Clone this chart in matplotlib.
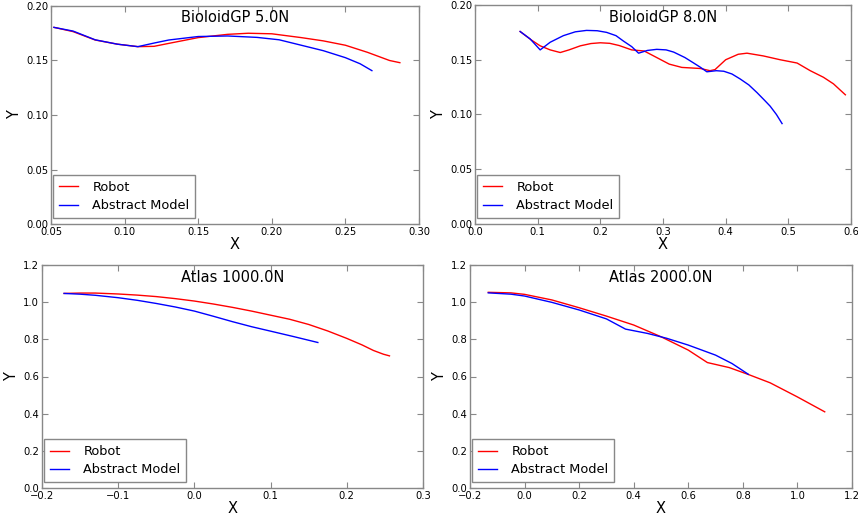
import matplotlib
matplotlib.use('Agg')
import matplotlib.pyplot as plt
from matplotlib.ticker import MultipleLocator, FuncFormatter

# BioloidGP 5.0N
bg5_robot_x = [0.052, 0.065, 0.080, 0.095, 0.109, 0.120, 0.130, 0.150, 0.170, 0.184, 0.200, 0.220, 0.235, 0.250, 0.265, 0.280, 0.287]
bg5_robot_y = [0.1804, 0.1765, 0.1688, 0.1650, 0.1627, 0.1630, 0.1657, 0.1710, 0.1740, 0.1750, 0.1745, 0.1710, 0.1680, 0.1640, 0.1575, 0.1500, 0.1480]
bg5_model_x = [0.052, 0.065, 0.080, 0.095, 0.109, 0.120, 0.130, 0.150, 0.170, 0.190, 0.205, 0.220, 0.235, 0.250, 0.260, 0.268]
bg5_model_y = [0.1804, 0.1770, 0.1690, 0.1650, 0.1627, 0.1660, 0.1688, 0.1720, 0.1725, 0.1712, 0.1690, 0.1640, 0.1590, 0.1526, 0.1470, 0.1407]

# BioloidGP 8.0N
bg8_robot_x = [0.072, 0.090, 0.104, 0.120, 0.136, 0.150, 0.168, 0.185, 0.200, 0.215, 0.230, 0.250, 0.270, 0.290, 0.310, 0.330, 0.360, 0.375, 0.383, 0.400, 0.420, 0.434, 0.460, 0.487, 0.514, 0.535, 0.556, 0.572, 0.591]
bg8_robot_y = [0.1758, 0.1680, 0.1627, 0.1590, 0.1566, 0.1590, 0.1627, 0.1648, 0.1655, 0.1650, 0.1630, 0.1590, 0.1580, 0.1520, 0.1460, 0.1430, 0.1420, 0.1400, 0.1410, 0.1500, 0.1550, 0.1560, 0.1535, 0.1500, 0.1470, 0.1400, 0.1340, 0.1280, 0.1180]
bg8_model_x = [0.072, 0.088, 0.104, 0.120, 0.141, 0.160, 0.178, 0.195, 0.210, 0.225, 0.237, 0.250, 0.261, 0.275, 0.290, 0.305, 0.317, 0.335, 0.349, 0.360, 0.370, 0.385, 0.397, 0.410, 0.423, 0.437, 0.450, 0.462, 0.471, 0.481, 0.490]
bg8_model_y = [0.1758, 0.1690, 0.1590, 0.1660, 0.1720, 0.1755, 0.1768, 0.1765, 0.1750, 0.1720, 0.1670, 0.1620, 0.1560, 0.1585, 0.1595, 0.1590, 0.1570, 0.1520, 0.1470, 0.1430, 0.1390, 0.1400, 0.1395, 0.1370, 0.1325, 0.1270, 0.1200, 0.1130, 0.1076, 0.1000, 0.0917]

# Atlas 1000.0N
at1_robot_x = [-0.171, -0.150, -0.130, -0.100, -0.075, -0.050, -0.025, 0.000, 0.025, 0.050, 0.075, 0.100, 0.125, 0.150, 0.175, 0.200, 0.220, 0.235, 0.248, 0.256]
at1_robot_y = [1.047, 1.049, 1.049, 1.044, 1.038, 1.030, 1.019, 1.006, 0.990, 0.972, 0.952, 0.930, 0.908, 0.880, 0.845, 0.805, 0.770, 0.740, 0.720, 0.711]
at1_model_x = [-0.171, -0.150, -0.130, -0.100, -0.075, -0.050, -0.025, 0.000, 0.025, 0.050, 0.075, 0.100, 0.130, 0.162]
at1_model_y = [1.047, 1.043, 1.037, 1.024, 1.010, 0.993, 0.974, 0.952, 0.924, 0.895, 0.868, 0.844, 0.815, 0.783]

# Atlas 2000.0N
at2_robot_x = [-0.133, -0.050, 0.000, 0.100, 0.200, 0.300, 0.400, 0.500, 0.600, 0.670, 0.750, 0.820, 0.900, 1.000, 1.100]
at2_robot_y = [1.053, 1.050, 1.042, 1.012, 0.970, 0.925, 0.877, 0.814, 0.742, 0.675, 0.648, 0.611, 0.566, 0.490, 0.410]
at2_model_x = [-0.133, -0.050, 0.000, 0.100, 0.200, 0.300, 0.370, 0.450, 0.520, 0.600, 0.700, 0.760, 0.820]
at2_model_y = [1.050, 1.043, 1.033, 0.999, 0.958, 0.910, 0.855, 0.832, 0.806, 0.769, 0.715, 0.670, 0.612]

panels = [
    ('BioloidGP 5.0N', bg5_robot_x, bg5_robot_y, bg5_model_x, bg5_model_y, (0.05, 0.30), (0.0, 0.20), 0.05, 2, 0.05, 2),
    ('BioloidGP 8.0N', bg8_robot_x, bg8_robot_y, bg8_model_x, bg8_model_y, (0.0, 0.6), (0.0, 0.20), 0.1, 1, 0.05, 2),
    ('Atlas 1000.0N', at1_robot_x, at1_robot_y, at1_model_x, at1_model_y, (-0.2, 0.3), (0.0, 1.2), 0.1, 1, 0.2, 1),
    ('Atlas 2000.0N', at2_robot_x, at2_robot_y, at2_model_x, at2_model_y, (-0.2, 1.2), (0.0, 1.2), 0.2, 1, 0.2, 1),
]

# axes boxes in pixels (left, right, top, bottom)
boxes = [(51, 419, 6, 224), (475, 851, 5, 224), (42, 423, 265, 488), (470, 852, 265, 488)]


def fmt(nd):
    def f(v, pos):
        s = '%.*f' % (nd, v)
        if float(s) == 0:
            s = s.lstrip('-')
        return s.replace('-', '\u2212')
    return FuncFormatter(f)


W, H = 858, 516
fig = plt.figure(figsize=(W / 100, H / 100), dpi=100)

for (title, rx, ry, mx, my, xl, yl, xs, xd, ys, yd), (l, r, t, b) in zip(panels, boxes):
    ax = fig.add_axes([l / W, 1 - b / H, (r - l) / W, (b - t) / H])
    ax.plot(rx, ry, color='red', lw=1, label='Robot')
    ax.plot(mx, my, color='blue', lw=1, label='Abstract Model')
    ax.set_xlim(*xl)
    ax.set_ylim(*yl)
    ax.xaxis.set_major_locator(MultipleLocator(xs))
    ax.yaxis.set_major_locator(MultipleLocator(ys))
    ax.xaxis.set_major_formatter(fmt(xd))
    ax.yaxis.set_major_formatter(fmt(yd))
    ax.text(0.5, 1 - 4.5 / (b - t), title, transform=ax.transAxes, ha='center', va='top', fontsize=10.5)
    ax.set_xlabel('X', fontsize=10.5, labelpad=0)
    ax.set_ylabel('Y', fontsize=10.5, labelpad=3)
    ax.tick_params(direction='in', top=True, right=True, labelsize=7.2, length=4, color='#888888', pad=2)
    for s in ax.spines.values():
        s.set_color('#888888')
        s.set_linewidth(1)
    leg = ax.legend(loc='lower left', fontsize=9.3, fancybox=False, framealpha=1,
                    handlelength=1.5, handletextpad=1.1, borderpad=0.45, labelspacing=0.4,
                    bbox_to_anchor=(2 / (r - l), 6 / (b - t)), borderaxespad=0)
    leg.get_frame().set_edgecolor('#888888')
    leg.get_frame().set_linewidth(1)

fig.savefig('out.png', dpi=100)
